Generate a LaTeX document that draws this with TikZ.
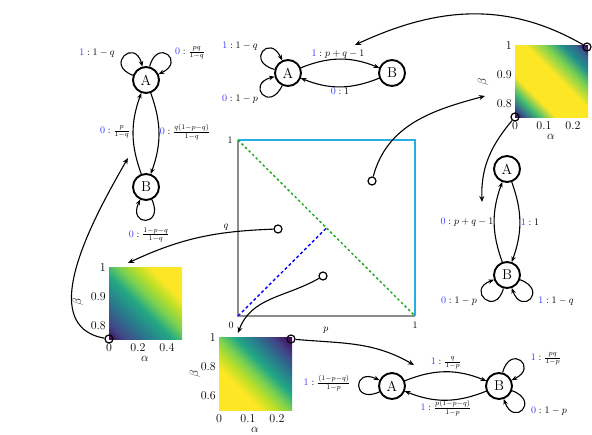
\documentclass[tikz,border=0pt]{standalone}
\usepackage{amsmath}
\usetikzlibrary{arrows.meta,calc}
\definecolor{vir0}{HTML}{440154}
\definecolor{vir1}{HTML}{482475}
\definecolor{vir2}{HTML}{414487}
\definecolor{vir3}{HTML}{355F8D}
\definecolor{vir4}{HTML}{2A788E}
\definecolor{vir5}{HTML}{21918C}
\definecolor{vir6}{HTML}{22A884}
\definecolor{vir7}{HTML}{44BF70}
\definecolor{vir8}{HTML}{7AD151}
\definecolor{vir9}{HTML}{BDDF26}
\definecolor{vir10}{HTML}{FDE725}
\definecolor{edgecyan}{RGB}{40,175,225}
\definecolor{diaggreen}{RGB}{40,170,40}
\definecolor{bitblue}{RGB}{50,50,255}
\pgfdeclarehorizontalshading{hmtr}{100bp}{color(0bp)=(vir0); color(14.6bp)=(vir0);
  color(20bp)=(vir3); color(27bp)=(vir7); color(35bp)=(vir10); color(55bp)=(vir10);
  color(65bp)=(vir8); color(73bp)=(vir5); color(80bp)=(vir3); color(85.4bp)=(vir0);
  color(100bp)=(vir0)}
\pgfdeclarehorizontalshading{hml}{100bp}{color(0bp)=(vir0); color(14.6bp)=(vir0);
  color(22bp)=(vir2); color(34bp)=(vir4); color(46bp)=(vir6); color(55bp)=(vir8);
  color(63bp)=(vir9); color(70bp)=(vir10); color(100bp)=(vir10)}
\pgfdeclarehorizontalshading{hmb}{100bp}{color(0bp)=(vir10); color(35bp)=(vir10);
  color(43bp)=(vir9); color(50bp)=(vir8); color(58bp)=(vir6); color(67bp)=(vir4);
  color(76bp)=(vir2); color(85.4bp)=(vir0); color(100bp)=(vir0)}
\newcommand{\inbit}[1]{\textcolor{bitblue}{#1}}
\tikzset{
  chainstate/.style={circle,draw,line width=1.9pt,minimum size=26pt,inner sep=0pt,font=\Large},
  trans/.style={-{Stealth[length=5.5pt,width=4.5pt]},line width=1.1pt},
  selfloop/.style={trans,looseness=1,min distance=30pt},
  lbl/.style={inner sep=1pt},
  link/.style={-{Stealth[length=6pt,width=5pt]},line width=1.1pt},
  probe/.style={circle,draw,line width=1.2pt,minimum size=8pt,inner sep=0pt},
  tick/.style={font=\large,inner sep=1pt},
  axlbl/.style={font=\large,inner sep=1pt},
  sqlbl/.style={font=\normalsize,inner sep=1pt},
}
\begin{document}
\begin{tikzpicture}[x=1pt,y=1pt,font=\fontsize{10}{12}\selectfont]
  \useasboundingbox (0,0) rectangle (592,-435);

  % unit square of (p,q)
  \coordinate (o) at (238,-316);
  \coordinate (px) at (415,-316);
  \coordinate (qy) at (238,-140);
  \coordinate (pq) at (415,-140);
  \coordinate (half) at (326.5,-228);
  \draw[gray!90,line width=1.1pt] (qy) -- (o) -- (px);
  \draw[edgecyan,line width=1.1pt] (qy) -- (pq) -- (px);
  \draw[diaggreen,line width=1.5pt,dash pattern=on 2.5pt off 2.5pt] (qy) -- (px);
  \draw[blue,line width=1.4pt,dash pattern=on 3pt off 2.5pt] (o) -- (half);
  \node[sqlbl] (sq1) at (230,-140) {1};
  \node[sqlbl] (sq0) at (231,-325) {0};
  \node[sqlbl] (sq1p) at (415,-325) {1};
  \node[sqlbl] (sqp) at (326,-330) {$p$};
  \node[sqlbl] (sqq) at (226,-227) {$q$};

  % heatmaps
  \shade[shading=hmtr,shading angle=45] (515,-118) rectangle (588,-46);
  \foreach \v/\y [count=\i] in {1/46,0.9/75,0.8/104}
    \node[tick,anchor=east] (trY\i) at (513,-\y) {\v};
  \foreach \v/\x [count=\i] in {0/515,0.1/544,0.2/573}
    \node[tick,anchor=north] (trX\i) at (\x,-120) {\v};
  \node[axlbl] (trA) at (551,-137) {$\alpha$};
  \node[axlbl,rotate=90] (trB) at (483,-82) {$\beta$};

  \shade[shading=hml,shading angle=45] (109,-340) rectangle (182,-268);
  \foreach \v/\y [count=\i] in {1/268,0.9/297,0.8/326}
    \node[tick,anchor=east] (lY\i) at (107,-\y) {\v};
  \foreach \v/\x [count=\i] in {0/109,0.2/138,0.4/167}
    \node[tick,anchor=north] (lX\i) at (\x,-342) {\v};
  \node[axlbl] (lAl) at (145,-359) {$\alpha$};
  \node[axlbl,rotate=90] (lBe) at (78,-302) {$\beta$};

  \shade[shading=hmb,shading angle=45] (219,-411) rectangle (292,-338);
  \foreach \v/\y [count=\i] in {1/338,0.8/367,0.6/396}
    \node[tick,anchor=east] (bY\i) at (217,-\y) {\v};
  \foreach \v/\x [count=\i] in {0/219,0.1/248,0.2/277}
    \node[tick,anchor=north] (bX\i) at (\x,-413) {\v};
  \node[axlbl] (bAl) at (255,-430) {$\alpha$};
  \node[axlbl,rotate=90] (bBe) at (195,-374) {$\beta$};

  % left chain
  \node[chainstate] (lA) at (146,-80) {A};
  \node[chainstate] (lB) at (146,-187) {B};
  \draw[trans] (lA) to[bend left=20] (lB);
  \draw[trans] (lB) to[bend left=20] (lA);
  \draw[selfloop] (lA) to[out=160,in=105] (lA);
  \draw[selfloop] (lA) to[out=75,in=25] (lA);
  \draw[selfloop] (lB) to[out=295,in=245] (lB);
  \node[lbl] (lA1) at (97,-53) {$\inbit{1}:1-q$};
  \node[lbl] (lA2) at (190,-53) {$\inbit{0}:\frac{pq}{1-q}$};
  \node[lbl] (lBA) at (115,-132) {$\inbit{0}:\frac{p}{1-q}$};
  \node[lbl] (lAB) at (185,-132) {$\inbit{0}:\frac{q(1-p-q)}{1-q}$};
  \node[lbl] (lB1) at (149,-235) {$\inbit{0}:\frac{1-p-q}{1-q}$};

  % top chain
  \node[chainstate] (tA) at (288,-73) {A};
  \node[chainstate] (tB) at (392,-73) {B};
  \draw[trans] (tA) to[bend left=22] (tB);
  \draw[trans] (tB) to[bend left=22] (tA);
  \draw[selfloop] (tA) to[out=165,in=115] (tA);
  \draw[selfloop] (tA) to[out=245,in=195] (tA);
  \node[lbl] (tA1) at (240,-46) {$\inbit{1}:1-q$};
  \node[lbl] (tA2) at (240,-99) {$\inbit{0}:1-p$};
  \node[lbl] (tAB) at (338,-54) {$\inbit{1}:p+q-1$};
  \node[lbl] (tBA) at (340,-91) {$\inbit{0}:1$};

  % right chain
  \node[chainstate] (rA) at (507,-169) {A};
  \node[chainstate] (rB) at (507,-275) {B};
  \draw[trans] (rA) to[bend left=20] (rB);
  \draw[trans] (rB) to[bend left=20] (rA);
  \draw[selfloop] (rB) to[out=255,in=200] (rB);
  \draw[selfloop] (rB) to[out=340,in=290] (rB);
  \node[lbl] (rBA) at (467,-222) {$\inbit{0}:p+q-1$};
  \node[lbl] (rAB) at (530,-222) {$\inbit{1}:1$};
  \node[lbl] (rB1) at (459,-301) {$\inbit{0}:1-p$};
  \node[lbl] (rB2) at (556,-301) {$\inbit{1}:1-q$};

  % bottom chain
  \node[chainstate] (bA) at (392,-386) {A};
  \node[chainstate] (bB) at (499,-386) {B};
  \draw[trans] (bA) to[bend left=22] (bB);
  \draw[trans] (bB) to[bend left=22] (bA);
  \draw[selfloop] (bA) to[out=205,in=155] (bA);
  \draw[selfloop] (bB) to[out=75,in=25] (bB);
  \draw[selfloop] (bB) to[out=340,in=290] (bB);
  \node[lbl] (bA1) at (327,-383) {$\inbit{1}:\frac{(1-p-q)}{1-p}$};
  \node[lbl] (bAB) at (446,-363) {$\inbit{1}:\frac{q}{1-p}$};
  \node[lbl] (bBA) at (446,-408) {$\inbit{1}:\frac{p(1-p-q)}{1-p}$};
  \node[lbl] (bB1) at (546,-359) {$\inbit{1}:\frac{pq}{1-p}$};
  \node[lbl] (bB2) at (549,-411) {$\inbit{0}:1-p$};

  % probes and links
  \node[probe] (m1) at (372,-181) {};
  \node[probe] (m2) at (278,-229) {};
  \node[probe] (m3) at (323,-276) {};
  \node[probe] (cTRa) at (587,-47) {};
  \node[probe] (cTRb) at (515,-117) {};
  \node[probe] (cL) at (109,-339) {};
  \node[probe] (cB) at (291,-339) {};
  \coordinate (e1) at (485,-96);
  \coordinate (e2) at (128,-263);
  \coordinate (e3) at (238,-333);
  \coordinate (e4) at (355,-45);
  \coordinate (e5) at (482,-202);
  \coordinate (e6) at (128,-158);
  \coordinate (e7) at (414,-365);
  \draw[link] (m1) to[out=75,in=195] (e1);
  \draw[link] (m2) to[out=182,in=25] (e2);
  \draw[link] (m3) to[out=210,in=70] (e3);
  \draw[link] (cTRa) to[out=150,in=25] (e4);
  \draw[link] (cTRb) to[out=230,in=92] (e5);
  \draw[link] (cL) to[out=170,in=240] (e6);
  \draw[link] (cB) to[out=355,in=150] (e7);
\end{tikzpicture}
\end{document}
